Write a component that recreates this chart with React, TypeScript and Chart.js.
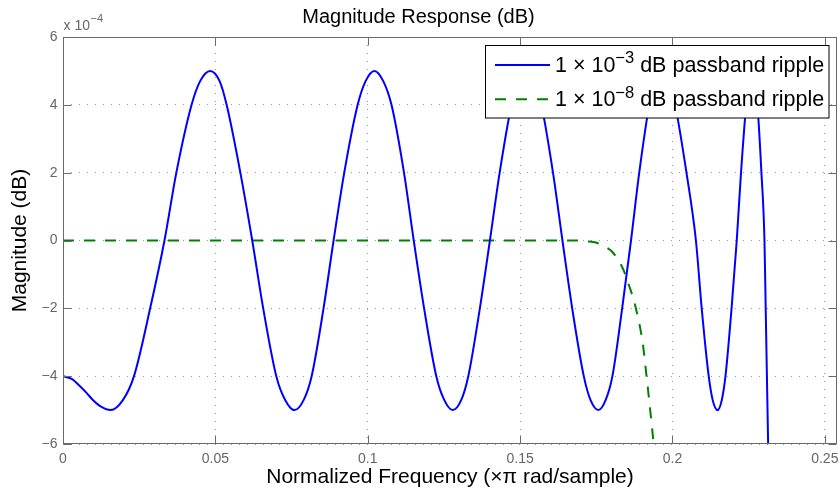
import React, { useEffect, useRef } from 'react';
import { Chart, registerables } from 'chart.js';

Chart.register(...registerables);

// Values of magnitude are in units of 1e-4 dB (axis multiplier "x 10^-4")
const blueFreq = [
  0, 0.003, 0.0055, 0.0078, 0.0098, 0.0125, 0.0156,
  0.0197, 0.0233, 0.0286, 0.0333, 0.0372, 0.0422, 0.045, 0.0483,
  0.0514, 0.0537, 0.0582, 0.0621, 0.0657, 0.07, 0.0729, 0.076,
  0.079, 0.0816, 0.0855, 0.0888, 0.0923, 0.0967, 0.0993, 0.1022,
  0.1051, 0.1078, 0.1119, 0.1151, 0.1185, 0.1225, 0.1251, 0.1279,
  0.1307, 0.133, 0.1368, 0.1401, 0.1433, 0.1472, 0.1495, 0.1522,
  0.1548, 0.157, 0.1608, 0.1639, 0.1671, 0.1709, 0.1731, 0.1757,
  0.1781, 0.1803, 0.1835, 0.1864, 0.1891, 0.1924, 0.1943, 0.1966,
  0.1991, 0.2009, 0.2046, 0.2077, 0.2096, 0.2119, 0.2132, 0.2148,
  0.2162, 0.2174, 0.2194, 0.2211, 0.2225, 0.2242, 0.2251, 0.2263,
  0.2272, 0.2279, 0.2292, 0.2302, 0.2306, 0.231, 0.2314, 0.232,
];
const blueMag = [
  -4.0, -4.09, -4.29, -4.5, -4.7, -4.9, -5.0,
  -4.7, -4.0, -2.0, 0, 2.0, 4.0, 4.7, 5.0,
  4.7, 4.0, 2.0, 0, -2.0, -4.0, -4.7, -5.0,
  -4.7, -4.0, -2.0, 0, 2.0, 4.0, 4.7, 5.0,
  4.7, 4.0, 2.0, 0, -2.0, -4.0, -4.7, -5.0,
  -4.7, -4.0, -2.0, 0, 2.0, 4.0, 4.7, 5.0,
  4.7, 4.0, 2.0, 0, -2.0, -4.0, -4.7, -5.0,
  -4.7, -4.0, -2.0, 0, 2.0, 4.0, 4.7, 5.0,
  4.7, 4.0, 2.0, 0, -2.0, -4.0, -4.7, -5.0,
  -4.7, -4.0, -2.0, 0, 2.0, 4.0, 4.7, 5.0,
  4.7, 4.0, 2.0, 0, -2.0, -4.0, -6.0, -9.0,
];

const greenFreq = [
  0, 0.05, 0.1, 0.15, 0.17, 0.1716, 0.1749, 0.1782, 0.1803, 0.1825, 0.184, 0.1852, 0.1866,
  0.188, 0.1902, 0.1915, 0.1927, 0.1938, 0.1946,
];
const greenMag = [
  0, 0, 0, 0, 0, -0.02, -0.06, -0.2, -0.34, -0.62, -0.88, -1.19, -1.55,
  -2.0, -3.0, -4.0, -5.0, -6.0, -7.0,
];

const xTicks = [0, 0.05, 0.1, 0.15, 0.2, 0.25];
const yTicks = [-6, -4, -2, 0, 2, 4, 6];

const seriesNames = ['1 × 10−3 dB passband ripple', '1 × 10−8 dB passband ripple'];
const legendBase = ['1 × 10', '1 × 10'];
const legendExp = ['−3', '−8'];
const legendRest = [' dB passband ripple', ' dB passband ripple'];

const titleText = 'Magnitude Response (dB)';
const xTitle = 'Normalized Frequency (×π rad/sample)';
const yTitle = 'Magnitude (dB)';
const exponentBase = 'x 10';
const exponentSup = '−4';

const FONT = '"Liberation Sans", Arial, Helvetica, sans-serif';
const AXIS_COLOR = '#6a6a6a';
const TICK_TEXT = '#666666';

const fmt = (v: number) => (v < 0 ? '−' + String(Math.abs(v)) : String(v));

const boxPlugin = {
  id: 'matlabBox',
  afterDatasetsDraw(chart: any) {
    const { ctx, chartArea } = chart;
    const { left, right, top, bottom } = chartArea;
    const xs = chart.scales.x;
    const ys = chart.scales.y;
    const L = Math.round(left) + 0.5;
    const R = Math.round(right) - 0.5;
    const T = Math.round(top) + 0.5;
    const B = Math.round(bottom) - 0.5;
    ctx.save();
    ctx.strokeStyle = AXIS_COLOR;
    ctx.lineWidth = 1;
    ctx.setLineDash([]);
    ctx.strokeRect(L, T, R - L, B - T);
    const tl = 8;
    ctx.beginPath();
    xTicks.forEach((v) => {
      const px = Math.round(xs.getPixelForValue(v)) + 0.5;
      ctx.moveTo(px, B);
      ctx.lineTo(px, B - tl);
      ctx.moveTo(px, T);
      ctx.lineTo(px, T + tl);
    });
    yTicks.forEach((v) => {
      const py = Math.round(ys.getPixelForValue(v)) + 0.5;
      ctx.moveTo(L, py);
      ctx.lineTo(L + tl, py);
      ctx.moveTo(R, py);
      ctx.lineTo(R - tl, py);
    });
    ctx.stroke();

    // exponent label
    ctx.fillStyle = TICK_TEXT;
    ctx.textBaseline = 'alphabetic';
    ctx.textAlign = 'left';
    ctx.font = `14px ${FONT}`;
    ctx.fillText(exponentBase, 63.5, 29.5);
    const w = ctx.measureText(exponentBase).width;
    ctx.font = `11px ${FONT}`;
    ctx.fillText(exponentSup, 63.5 + w + 0.5, 21.5);
    ctx.restore();
  },
};

const legendPlugin = {
  id: 'matlabLegend',
  afterDraw(chart: any) {
    const { ctx } = chart;
    ctx.save();
    const bx = 485.5, by = 45.5, bw = 343.5, bh = 72.5;
    ctx.fillStyle = '#ffffff';
    ctx.fillRect(bx, by, bw, bh);
    ctx.strokeStyle = '#000000';
    ctx.lineWidth = 1;
    ctx.setLineDash([]);
    ctx.strokeRect(bx, by, bw, bh);
    const rows = [65, 99.3];
    chart.data.datasets.forEach((ds: any, i: number) => {
      const y = rows[i];
      ctx.strokeStyle = ds.borderColor;
      ctx.lineWidth = ds.borderWidth;
      ctx.setLineDash(ds.borderDash || []);
      ctx.beginPath();
      ctx.moveTo(495, y);
      ctx.lineTo(550, y);
      ctx.stroke();
      ctx.setLineDash([]);
      ctx.fillStyle = '#000000';
      ctx.textAlign = 'left';
      ctx.textBaseline = 'alphabetic';
      const base = y + 6.8;
      let x = 555;
      ctx.font = `21.5px ${FONT}`;
      ctx.fillText(legendBase[i], x, base);
      x += ctx.measureText(legendBase[i]).width;
      ctx.font = `16.5px ${FONT}`;
      ctx.fillText(legendExp[i], x, base - 8.4);
      x += ctx.measureText(legendExp[i]).width;
      ctx.font = `21.5px ${FONT}`;
      ctx.fillText(legendRest[i], x, base);
    });
    ctx.restore();
  },
};

export default function App() {
  const ref = useRef<HTMLCanvasElement | null>(null);
  useEffect(() => {
    if (!ref.current) return;
    Chart.defaults.font.family = FONT;
    const chart = new Chart(ref.current, {
      type: 'line',
      data: {
        datasets: [
          {
            label: seriesNames[0],
            data: blueFreq.map((f, i) => ({ x: f, y: blueMag[i] })),
            borderColor: '#0000ff',
            borderWidth: 2,
            pointRadius: 0,
            cubicInterpolationMode: 'monotone',
            fill: false,
          },
          {
            label: seriesNames[1],
            data: greenFreq.map((f, i) => ({ x: f, y: greenMag[i] })),
            borderColor: '#008000',
            borderWidth: 2,
            borderDash: [11, 10],
            pointRadius: 0,
            cubicInterpolationMode: 'monotone',
            fill: false,
          },
        ],
      } as any,
      options: {
        responsive: false,
        animation: false,
        devicePixelRatio: 1,
        events: [],
        layout: { padding: { left: 0, right: 3, top: 0, bottom: 0 } },
        plugins: {
          legend: { display: false },
          tooltip: { enabled: false },
          title: {
            display: true,
            text: titleText,
            color: '#000000',
            font: { size: 20, weight: 'normal', family: FONT },
            padding: { top: 5.4, bottom: 7.6 },
          },
        },
        scales: {
          x: {
            type: 'linear',
            min: 0,
            max: 0.254,
            afterBuildTicks: (s: any) => {
              s.ticks = xTicks.map((v) => ({ value: v }));
            },
            afterFit: (s: any) => {
              s.height = 49;
              s.paddingLeft = 0;
              s.paddingRight = 0;
            },
            ticks: {
              color: TICK_TEXT,
              font: { size: 14, family: FONT },
              padding: 6.3,
              maxRotation: 0,
              autoSkip: false,
              callback: (v: any) => fmt(Number(v)),
            },
            grid: { color: '#9a9a9a', lineWidth: 1, drawTicks: false },
            border: { display: false, dash: [1, 7] },
            title: {
              display: true,
              text: xTitle,
              color: '#000000',
              font: { size: 21, family: FONT },
              padding: { top: 0, bottom: 2.7 },
            },
          },
          y: {
            type: 'linear',
            min: -6,
            max: 6,
            afterBuildTicks: (s: any) => {
              s.ticks = yTicks.map((v) => ({ value: v }));
            },
            afterFit: (s: any) => {
              s.width = 63;
              s.paddingTop = 0;
              s.paddingBottom = 0;
            },
            ticks: {
              color: TICK_TEXT,
              font: { size: 14, family: FONT },
              padding: 5.5,
              autoSkip: false,
              callback: (v: any) => fmt(Number(v)),
            },
            grid: { color: '#9a9a9a', lineWidth: 1, drawTicks: false },
            border: { display: false, dash: [1, 7] },
            title: {
              display: true,
              text: yTitle,
              color: '#000000',
              font: { size: 21, family: FONT },
              padding: { top: 7.4, bottom: 0 },
            },
          },
        },
      } as any,
      plugins: [boxPlugin, legendPlugin],
    });
    return () => chart.destroy();
  }, []);
  return (
    <div style={{ position: 'absolute', left: 0, top: 0, width: 840, height: 493, background: '#fff' }}>
      <canvas ref={ref} width={840} height={493} style={{ display: 'block' }} />
    </div>
  );
}
